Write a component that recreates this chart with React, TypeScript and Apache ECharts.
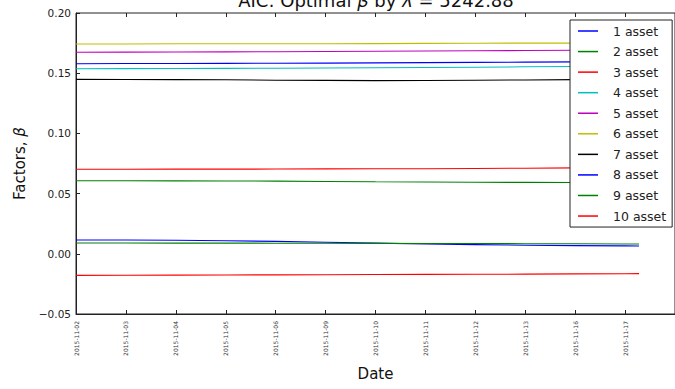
import React, { useEffect, useRef } from "react";
import * as echarts from "echarts";

const dates = [
  "2015-11-02", "2015-11-03", "2015-11-04", "2015-11-05", "2015-11-06", "2015-11-09",
  "2015-11-10", "2015-11-11", "2015-11-12", "2015-11-13", "2015-11-16", "2015-11-17",
];
const xs = [0, 1, 2, 3, 4, 5, 6, 7, 8, 9, 10, 11, 11.28];
const seriesNames = ["1 asset", "2 asset", "3 asset", "4 asset", "5 asset", "6 asset", "7 asset", "8 asset", "9 asset", "10 asset"];
const seriesColors = ["#0000ff", "#008000", "#ff0000", "#00bfbf", "#bf00bf", "#bfbf00", "#000000", "#0000ff", "#008000", "#ff0000"];
const asset1 = [0.1579, 0.158, 0.1581, 0.1582, 0.1583, 0.1584, 0.1586, 0.1588, 0.159, 0.1592, 0.1594, 0.1595, 0.1596];
const asset2 = [0.0607, 0.0607, 0.0606, 0.0605, 0.0604, 0.0601, 0.0598, 0.0596, 0.0594, 0.0593, 0.0592, 0.0591, 0.0591];
const asset3 = [0.0702, 0.0702, 0.0703, 0.0703, 0.0704, 0.0705, 0.0706, 0.0707, 0.0709, 0.0711, 0.0714, 0.0717, 0.0718];
const asset4 = [0.1537, 0.1538, 0.1539, 0.154, 0.1541, 0.1543, 0.1545, 0.1547, 0.155, 0.1553, 0.1556, 0.1559, 0.156];
const asset5 = [0.1674, 0.1675, 0.1676, 0.1677, 0.1678, 0.168, 0.1682, 0.1684, 0.1686, 0.1688, 0.169, 0.1692, 0.1693];
const asset6 = [0.1743, 0.1743, 0.1744, 0.1744, 0.1745, 0.1745, 0.1746, 0.1748, 0.1749, 0.175, 0.175, 0.1751, 0.1751];
const asset7 = [0.1449, 0.1448, 0.1447, 0.1445, 0.1442, 0.144, 0.1438, 0.1439, 0.1441, 0.1444, 0.1447, 0.1449, 0.1449];
const asset8 = [0.0115, 0.0114, 0.0112, 0.0108, 0.0103, 0.0096, 0.0089, 0.0082, 0.0076, 0.0071, 0.0068, 0.0066, 0.0065];
const asset9 = [0.009, 0.009, 0.0089, 0.0089, 0.0088, 0.0088, 0.0087, 0.0086, 0.0085, 0.0084, 0.0083, 0.0082, 0.0081];
const asset10 = [-0.0179, -0.0178, -0.0177, -0.0176, -0.0175, -0.0174, -0.0172, -0.0171, -0.017, -0.0169, -0.0167, -0.0166, -0.0165];
const allValues = [asset1, asset2, asset3, asset4, asset5, asset6, asset7, asset8, asset9, asset10];

const FONT = "DejaVu Sans";

export default function App() {
  const ref = useRef<HTMLDivElement>(null);
  useEffect(() => {
    if (!ref.current) return;
    const chart = echarts.init(ref.current, null, { renderer: "svg" });
    const xAxisCommon = {
      type: "value" as const,
      min: 0,
      max: 12,
      interval: 1,
      splitLine: { show: false },
      axisTick: { inside: true, length: 4, lineStyle: { color: "#222" } },
    };
    chart.setOption({
      animation: false,
      backgroundColor: "#fff",
      title: {
        text: "AIC: Optimal {i|β} by {i|λ} = 5242.88",
        left: 376,
        textAlign: "center",
        top: -9,
        padding: 0,
        textStyle: {
          fontFamily: FONT,
          fontSize: 18,
          fontWeight: "normal",
          color: "#111",
          rich: { i: { fontFamily: FONT, fontSize: 18, fontStyle: "italic", color: "#111" } },
        },
      },
      grid: {
        left: 76,
        right: -1,
        top: 13,
        bottom: 75,
        show: true,
        borderColor: "#222",
        borderWidth: 1,
        backgroundColor: "transparent",
      },
      legend: {
        orient: "vertical",
        left: 570,
        top: 20,
        padding: [4, 6, 4, 8],
        itemGap: 6.56,
        itemWidth: 20,
        itemHeight: 1.5,
        icon: "rect",
        backgroundColor: "#fff",
        borderColor: "#222",
        borderWidth: 1,
        borderRadius: 0,
        data: seriesNames,
        textStyle: {
          fontFamily: FONT,
          fontSize: 12.5,
          lineHeight: 14,
          color: "#222",
          padding: [0, 0, 0, 10],
        },
      },
      xAxis: [
        {
          ...xAxisCommon,
          position: "bottom",
          name: "Date",
          nameLocation: "middle",
          nameGap: 52,
          nameTextStyle: { fontFamily: FONT, fontSize: 15, color: "#111" },
          axisLine: { show: true, onZero: false, lineStyle: { color: "#222" } },
          axisLabel: {
            rotate: 90,
            margin: 7,
            fontFamily: FONT,
            fontSize: 6,
            color: "#333",
            showMaxLabel: false,
            formatter: (v: number) => (Number.isInteger(v) && v < dates.length ? dates[v] : ""),
          },
        },
        {
          ...xAxisCommon,
          position: "top",
          axisLine: { show: false, onZero: false },
          axisLabel: { show: false },
        },
      ],
      yAxis: {
        type: "value",
        min: -0.05,
        max: 0.2,
        interval: 0.05,
        name: "{n|Factors, }{i|β}",
        nameLocation: "middle",
        nameGap: 46,
        nameTextStyle: {
          rich: {
            n: { fontFamily: FONT, fontSize: 15, color: "#111" },
            i: { fontFamily: FONT, fontSize: 15, fontStyle: "italic", color: "#111" },
          },
        },
        splitLine: { show: false },
        axisLine: { show: true, onZero: false, lineStyle: { color: "#222" } },
        axisTick: { inside: true, length: 4, lineStyle: { color: "#222" } },
        axisLabel: {
          margin: 5,
          fontFamily: FONT,
          fontSize: 10.5,
          color: "#222",
          formatter: (v: number) => {
            const s = Math.abs(v).toFixed(2);
            return v < -1e-9 ? "\u2212" + s : s;
          },
        },
      },
      series: seriesNames.map((name, i) => ({
        name,
        type: "line",
        xAxisIndex: 0,
        showSymbol: false,
        symbol: "none",
        color: seriesColors[i],
        lineStyle: { width: 1.1, color: seriesColors[i] },
        data: xs.map((x, j) => [x, allValues[i][j]]),
      })),
    });
    return () => chart.dispose();
  }, []);
  return (
    <div
      ref={ref}
      style={{ position: "absolute", left: 0, top: 0, width: 675, height: 389 }}
    />
  );
}
